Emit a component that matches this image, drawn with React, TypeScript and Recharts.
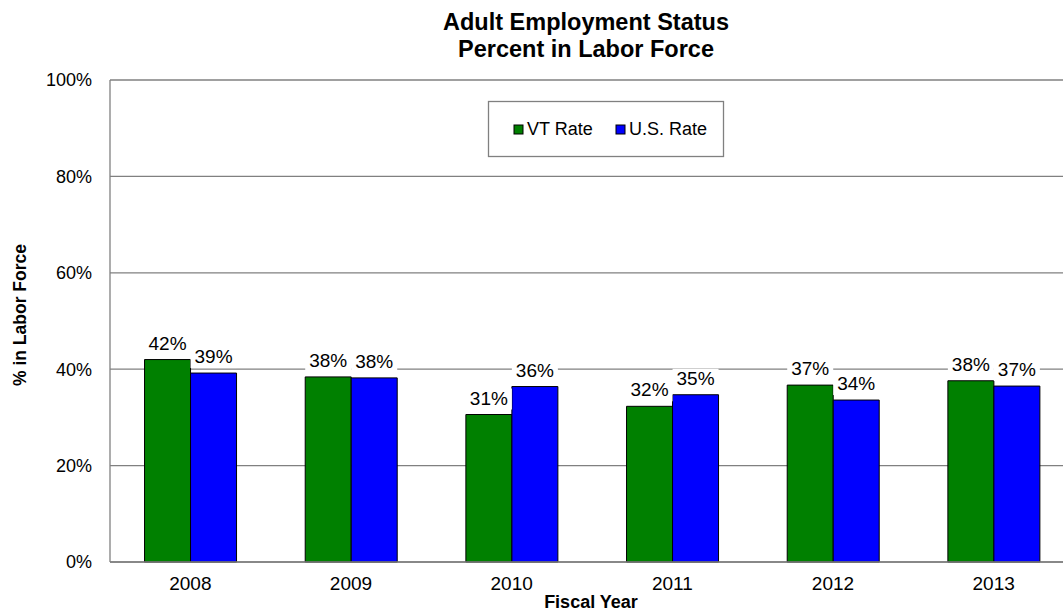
import { BarChart, Bar, XAxis, YAxis, CartesianGrid, LabelList, Customized } from "recharts"

const years = ["2008", "2009", "2010", "2011", "2012", "2013"]
const vtRate = [42.0, 38.4, 30.6, 32.3, 36.7, 37.6]
const usRate = [39.2, 38.2, 36.4, 34.7, 33.6, 36.5]
const yTicks = [0, 20, 40, 60, 80, 100]
const seriesNames = ["VT Rate", "U.S. Rate"]
const seriesColors = ["#008000", "#0000ff"]

const data = years.map((year, i) => ({ year, vt: vtRate[i], us: usRate[i] }))

const font = "'Liberation Sans', Arial, sans-serif"

function PctLabel(props: any) {
  const { x, y, width, value } = props
  const cx = x + width / 2
  const text = `${Math.round(value)}%`
  return (
    <g>
      <rect x={cx - 23} y={y - 26} width={46} height={21} fill="#fff" />
      <text x={cx} y={y - 10} textAnchor="middle" fontSize={19} fontFamily={font} fill="#000">
        {text}
      </text>
    </g>
  )
}

// titles and legend box drawn straight into the svg so nothing eats plot space
function Overlay() {
  const boxX = [514, 616]
  return (
    <g fontFamily={font} fill="#000">
      <text x={586} y={30} textAnchor="middle" fontSize={23.5} fontWeight="bold">
        Adult Employment Status
      </text>
      <text x={586} y={57} textAnchor="middle" fontSize={23.5} fontWeight="bold">
        Percent in Labor Force
      </text>
      <text x={591} y={608} textAnchor="middle" fontSize={18} fontWeight="bold">
        Fiscal Year
      </text>
      <text x={26} y={315} textAnchor="middle" fontSize={17.5} fontWeight="bold" transform="rotate(-90 26 315)">
        % in Labor Force
      </text>
      <rect x={488.5} y={101.5} width={235} height={55} fill="#fff" stroke="#808080" strokeWidth={1.3} />
      {seriesNames.map((name, i) => (
        <g key={name}>
          <rect x={boxX[i]} y={125} width={9} height={9} fill={seriesColors[i]} stroke="#000" strokeWidth={1} />
          <text x={boxX[i] + 13} y={134.5} fontSize={18}>
            {name}
          </text>
        </g>
      ))}
    </g>
  )
}

export default function App() {
  return (
    <div style={{ position: "absolute", left: 0, top: 0, width: 1063, height: 613, overflow: "hidden", background: "#fff" }}>
      <BarChart
        width={1080}
        height={613}
        data={data}
        margin={{ top: 80, right: 6, left: 0, bottom: 0 }}
        barCategoryGap="21.5%"
        barGap={0}
      >
        <CartesianGrid vertical={false} stroke="#808080" strokeWidth={1.3} />
        <XAxis
          dataKey="year"
          height={51}
          tickLine={false}
          axisLine={{ stroke: "#808080", strokeWidth: 1.3 }}
          tick={{ fontSize: 19, fontFamily: font, fill: "#000" }}
          tickMargin={9}
        />
        <YAxis
          width={110}
          domain={[0, 100]}
          ticks={yTicks}
          tickFormatter={(v: number) => `${v}%`}
          tickLine={false}
          axisLine={{ stroke: "#808080", strokeWidth: 1.3 }}
          tick={{ fontSize: 18, fontFamily: font, fill: "#000" }}
          tickMargin={12}
        />
        <Bar dataKey="vt" name={seriesNames[0]} fill={seriesColors[0]} stroke="#000" strokeWidth={1} isAnimationActive={false}>
          <LabelList dataKey="vt" content={PctLabel} />
        </Bar>
        <Bar dataKey="us" name={seriesNames[1]} fill={seriesColors[1]} stroke="#000" strokeWidth={1} isAnimationActive={false}>
          <LabelList dataKey="us" content={PctLabel} />
        </Bar>
        <Customized component={Overlay} />
      </BarChart>
    </div>
  )
}
